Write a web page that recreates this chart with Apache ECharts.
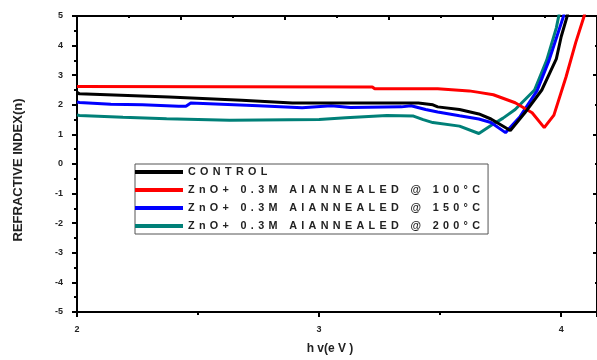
<!DOCTYPE html>
<html><head><meta charset="utf-8">
<script src="https://cdn.jsdelivr.net/npm/echarts@6/dist/echarts.min.js"></script>
<style>html,body{margin:0;padding:0;background:#fff}#c{width:597px;height:360px}</style>
</head><body><div id="c"></div>
<script>
var seriesNames = ['CONTROL', 'ZnO+ 0.3M AIANNEALED @ 100°C', 'ZnO+ 0.3M AIANNEALED @ 150°C', 'ZnO+ 0.3M AIANNEALED @ 200°C'];
var xTickLabels = ['2', '3', '4'];
var control = [[2.00,2.42],[2.01,2.37],[2.38,2.26],[2.68,2.15],[2.89,2.06],[3.30,2.06],[3.41,2.06],[3.47,2.00],[3.49,1.93],[3.58,1.84],[3.66,1.69],[3.71,1.52],[3.79,1.13],[3.85,1.73],[3.92,2.50],[3.98,3.55],[4.00,4.30],[4.025,5.00],[4.035,5.40]];
var an100 = [[2.00,2.62],[3.22,2.60],[3.23,2.54],[3.49,2.54],[3.62,2.47],[3.66,2.42],[3.72,2.34],[3.81,2.07],[3.88,1.73],[3.93,1.23],[3.97,1.65],[4.02,2.94],[4.06,4.10],[4.095,5.00],[4.105,5.40]];
var an150 = [[2.00,2.10],[2.01,2.08],[2.14,2.02],[2.27,2.00],[2.42,1.95],[2.45,1.95],[2.47,2.06],[2.75,1.97],[2.93,1.90],[3.05,1.97],[3.13,1.91],[3.34,1.93],[3.38,1.97],[3.44,1.84],[3.49,1.76],[3.58,1.63],[3.66,1.52],[3.71,1.40],[3.77,1.06],[3.83,1.60],[3.90,2.47],[3.95,3.50],[3.99,4.50],[4.01,5.00],[4.02,5.40]];
var an200 = [[2.00,1.66],[2.01,1.64],[2.19,1.58],[2.37,1.53],[2.63,1.48],[3.00,1.50],[3.11,1.56],[3.28,1.64],[3.39,1.62],[3.43,1.50],[3.47,1.40],[3.58,1.28],[3.66,1.03],[3.71,1.30],[3.76,1.55],[3.81,1.84],[3.89,2.50],[3.94,3.50],[3.98,4.60],[3.99,5.00],[4.00,5.40]];
var colors = ['#000000', '#ff0000', '#0000ff', '#008078'];
var allData = [control, an100, an150, an200];

function spaced(s){ return s.split('').join('\u2009\u2009'); }

var chart = echarts.init(document.getElementById('c'), null, {renderer:'canvas'});
var labelFont = {fontFamily:'Liberation Sans, Arial, sans-serif', fontWeight:'bold', color:'#222'};
chart.setOption({
  animation:false,
  backgroundColor:'#fff',
  grid:{left:77, top:16, width:522, height:298},
  legend:{
    orient:'vertical', left:135, top:164,
    data: seriesNames.map(function(n){return {name:n, icon:'rect'};}),
    itemWidth:48, itemHeight:4, itemGap:4,
    borderColor:'#555', borderWidth:1, padding:[1,8,1,0],
    formatter:function(n){return spaced(n);},
    textStyle:Object.assign({fontSize:10.8, lineHeight:14}, labelFont)
  },
  xAxis:[{
    type:'value', position:'bottom', min:2, max:4.148, interval:1,
    name:'h v(e V )', nameLocation:'middle', nameGap:31,
    nameTextStyle:Object.assign({fontSize:12, padding:[0,14,0,0]}, labelFont),
    axisLine:{show:true, onZero:false, lineStyle:{color:'#000', width:2}},
    axisTick:{show:true, inside:false, length:5, lineStyle:{color:'#000', width:2}},
    minorTick:{show:true, splitNumber:2, length:3, lineStyle:{color:'#000', width:2}},
    splitLine:{show:false},
    axisLabel:Object.assign({fontSize:9, margin:13, showMaxLabel:false, formatter:function(v){var i=Math.round(v)-2; return xTickLabels[i]!==undefined && Math.abs(v-Math.round(v))<1e-6 ? xTickLabels[i] : '';}}, labelFont)
  },{
    type:'value', position:'top', min:0, max:10, interval:2,
    axisLine:{show:true, onZero:false, lineStyle:{color:'#000', width:2}},
    axisTick:{show:true, inside:true, length:4, lineStyle:{color:'#000', width:2}},
    minorTick:{show:true, splitNumber:2, length:2, lineStyle:{color:'#000', width:2}},
    splitLine:{show:false}, axisLabel:{show:false}
  }],
  yAxis:[{
    type:'value', position:'left', min:-5, max:5, interval:1,
    name:'REFRACTIVE INDEX(n)', nameLocation:'middle', nameGap:52,
    nameTextStyle:Object.assign({fontSize:13, padding:[0,12,0,0]}, labelFont),
    axisLine:{show:true, onZero:false, lineStyle:{color:'#000', width:2}},
    axisTick:{show:true, inside:false, length:5, lineStyle:{color:'#000', width:2}},
    minorTick:{show:true, splitNumber:2, length:3, lineStyle:{color:'#000', width:2}},
    splitLine:{show:false},
    axisLabel:Object.assign({fontSize:9, margin:14}, labelFont)
  },{
    type:'value', position:'right', min:0, max:10, interval:2,
    axisLine:{show:true, onZero:false, lineStyle:{color:'#000', width:2}},
    axisTick:{show:true, inside:true, length:4, lineStyle:{color:'#000', width:2}},
    minorTick:{show:true, splitNumber:2, length:2, lineStyle:{color:'#000', width:2}},
    splitLine:{show:false}, axisLabel:{show:false}
  }],
  series: seriesNames.map(function(n, i){
    return {name:n, type:'line', xAxisIndex:0, yAxisIndex:0, data:allData[i], showSymbol:false, symbol:'none',
      clip:true, color:colors[i], lineStyle:{color:colors[i], width:3}, z: 10 - i};
  })
});
</script></body></html>
